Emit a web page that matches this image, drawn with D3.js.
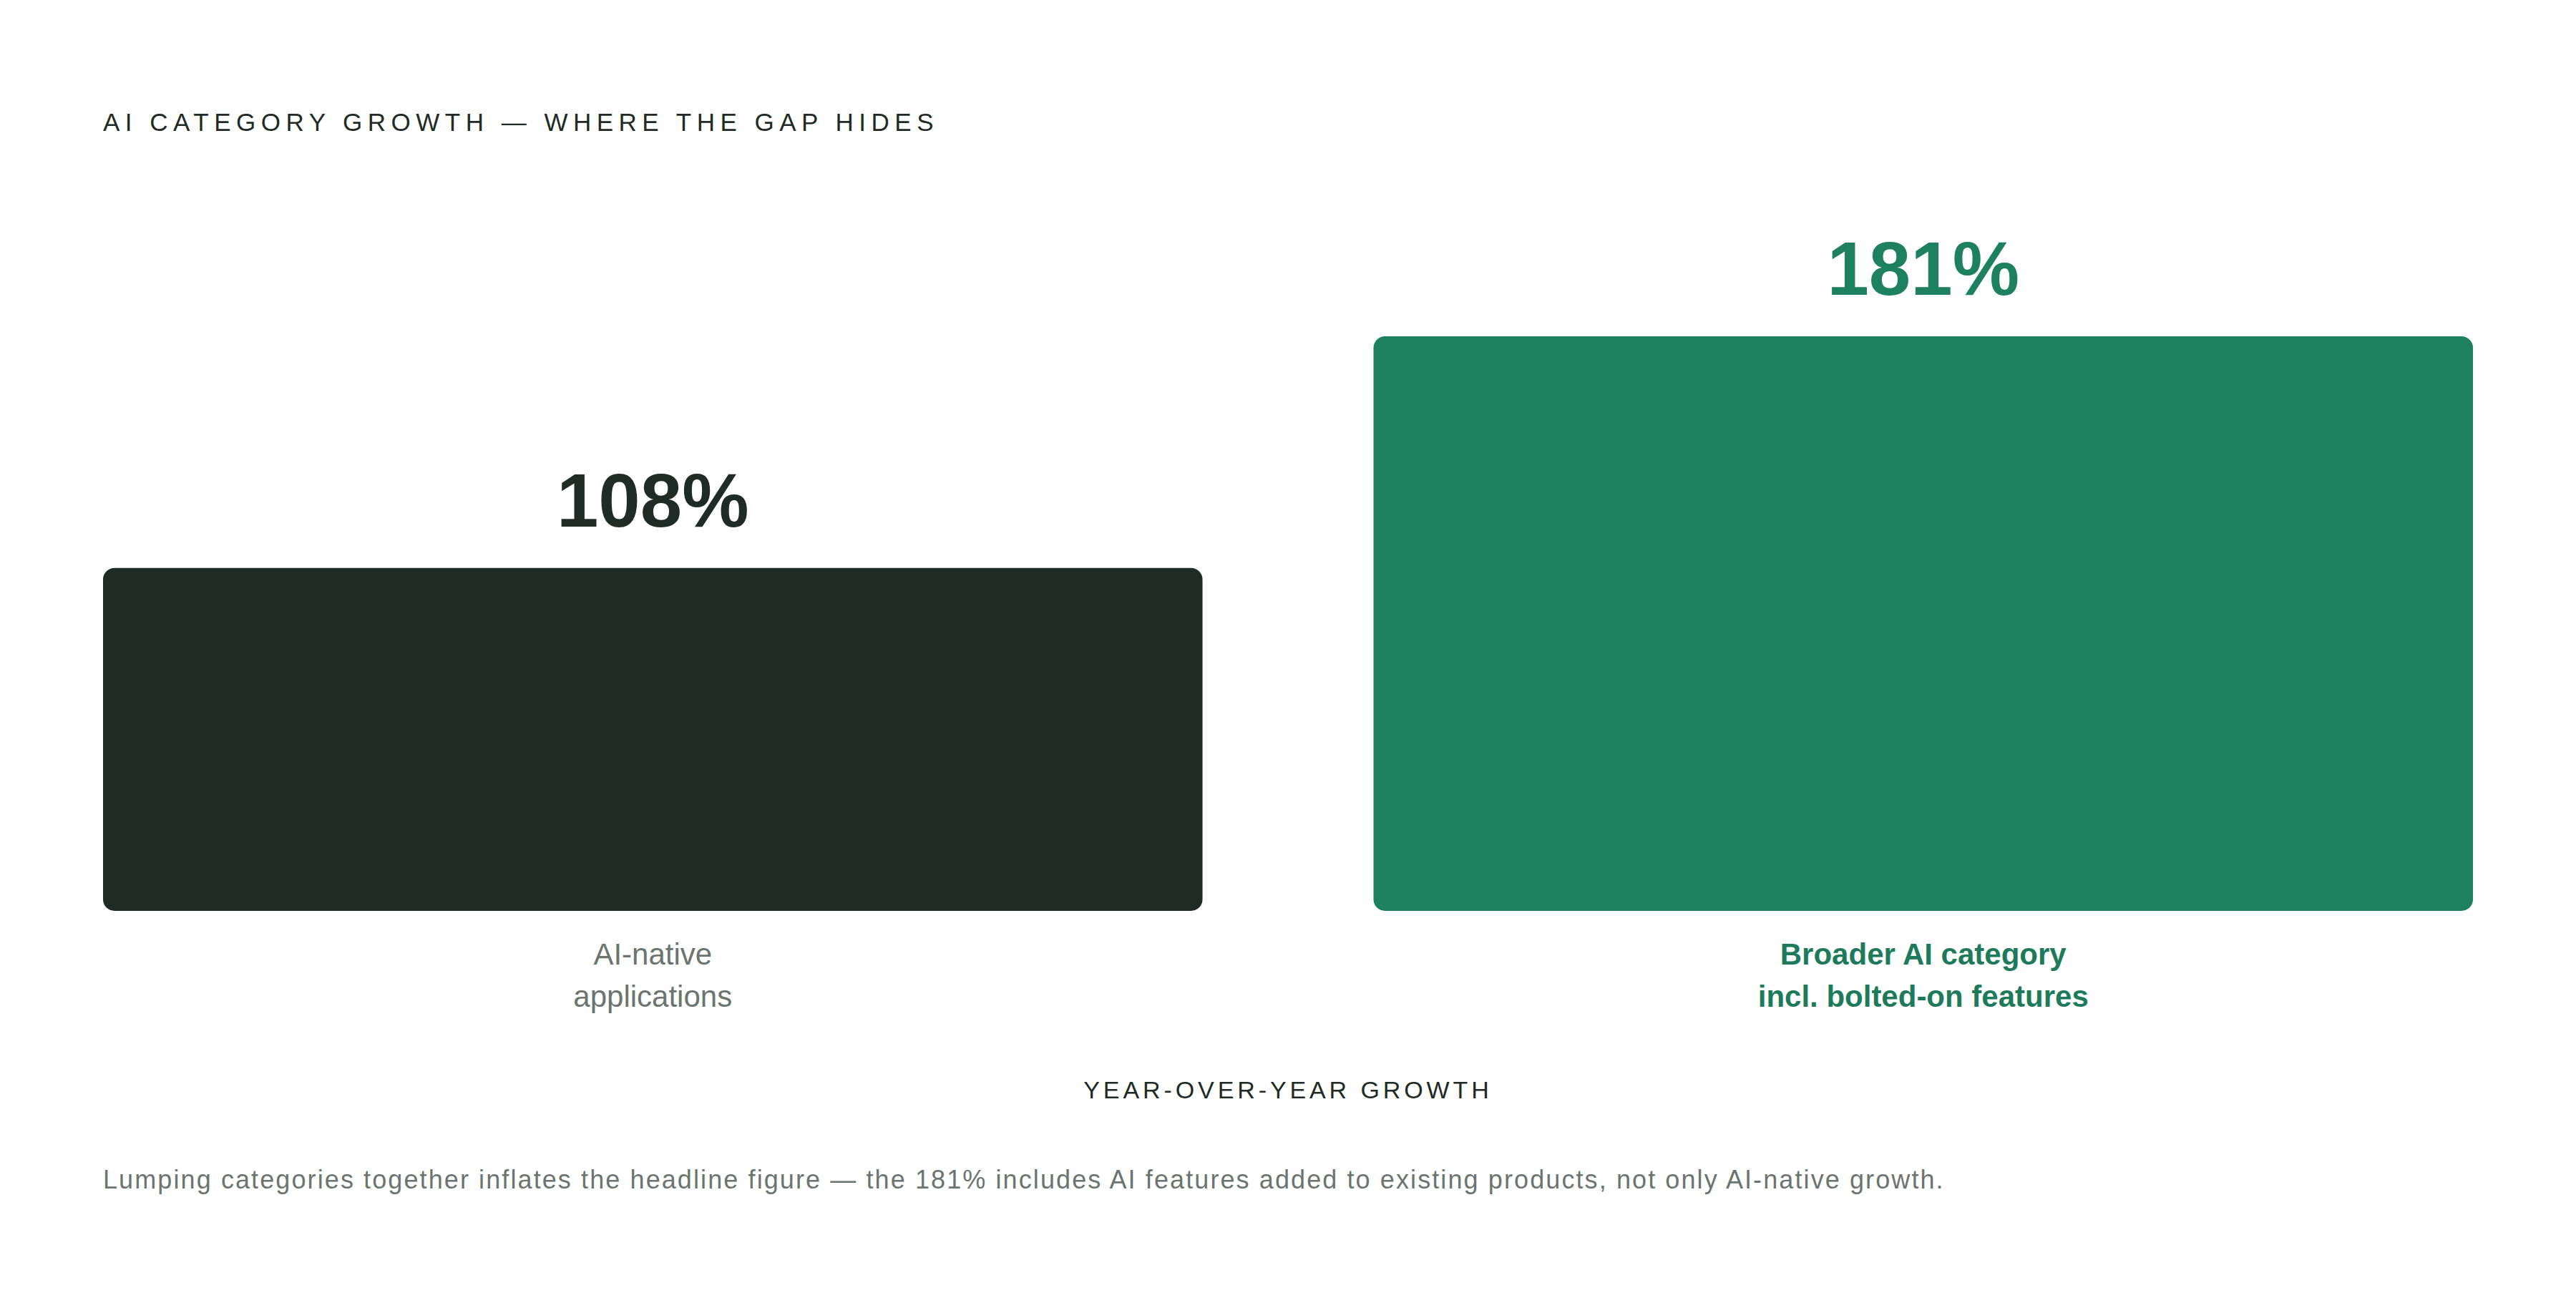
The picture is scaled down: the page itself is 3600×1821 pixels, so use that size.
<!DOCTYPE html>
<html>
<head>
<meta charset="utf-8">
<script src="https://cdn.jsdelivr.net/npm/d3@7"></script>
<style>
  html, body { margin: 0; padding: 0; background: #ffffff; }
  svg { display: block; font-family: "Liberation Sans", Arial, sans-serif; }
</style>
</head>
<body>
<svg id="chart" width="3600" height="1821"></svg>
<script>
const categories = ["AI-native applications", "Broader AI category incl. bolted-on features"];
const categoryLines = [["AI-native", "applications"], ["Broader AI category", "incl. bolted-on features"]];
const growthValues = [108, 181];
const valueLabels = ["108%", "181%"];
const barColors = ["#1f2b25", "#1d805e"];
const labelColors = ["#6b7570", "#1d7a5a"];
const labelWeights = ["400", "700"];
const valueColors = ["#1f2b25", "#1d805e"];

const title = "AI CATEGORY GROWTH — WHERE THE GAP HIDES";
const axisTitle = "YEAR-OVER-YEAR GROWTH";
const footnote = "Lumping categories together inflates the headline figure — the 181% includes AI features added to existing products, not only AI-native growth.";

const svg = d3.select("#chart");
const left = 144, right = 3456, baseY = 1273, topY = 470;

const x = d3.scaleBand().domain(categories).range([left, right]).paddingInner(0.1346).paddingOuter(0);
const y = d3.scaleLinear().domain([0, d3.max(growthValues)]).range([baseY, topY]);

svg.append("text")
  .attr("x", left).attr("y", 183)
  .attr("font-size", 35).attr("letter-spacing", "7.5px")
  .attr("fill", "#1f2b25")
  .text(title);

const g = svg.append("g");
categories.forEach((c, i) => {
  const v = growthValues[i];
  g.append("rect")
    .attr("x", x(c)).attr("y", y(v))
    .attr("width", x.bandwidth()).attr("height", y(0) - y(v))
    .attr("rx", 16).attr("ry", 16)
    .attr("fill", barColors[i]);
  g.append("text")
    .attr("x", x(c) + x.bandwidth() / 2).attr("y", y(v) - 58)
    .attr("text-anchor", "middle")
    .attr("font-size", 105).attr("font-weight", 700)
    .attr("fill", valueColors[i])
    .text(valueLabels[i]);
  categoryLines[i].forEach((line, j) => {
    g.append("text")
      .attr("x", x(c) + x.bandwidth() / 2).attr("y", 1348 + j * 59)
      .attr("text-anchor", "middle")
      .attr("font-size", 42).attr("font-weight", labelWeights[i])
      .attr("fill", labelColors[i])
      .text(line);
  });
});

svg.append("text")
  .attr("x", 1800).attr("y", 1535)
  .attr("text-anchor", "middle")
  .attr("font-size", 34).attr("letter-spacing", "4.9px")
  .attr("fill", "#1f2b25")
  .text(axisTitle);

svg.append("text")
  .attr("x", left).attr("y", 1661)
  .attr("font-size", 36).attr("letter-spacing", "2.1px")
  .attr("fill", "#6b7570")
  .text(footnote);
</script>
</body>
</html>
